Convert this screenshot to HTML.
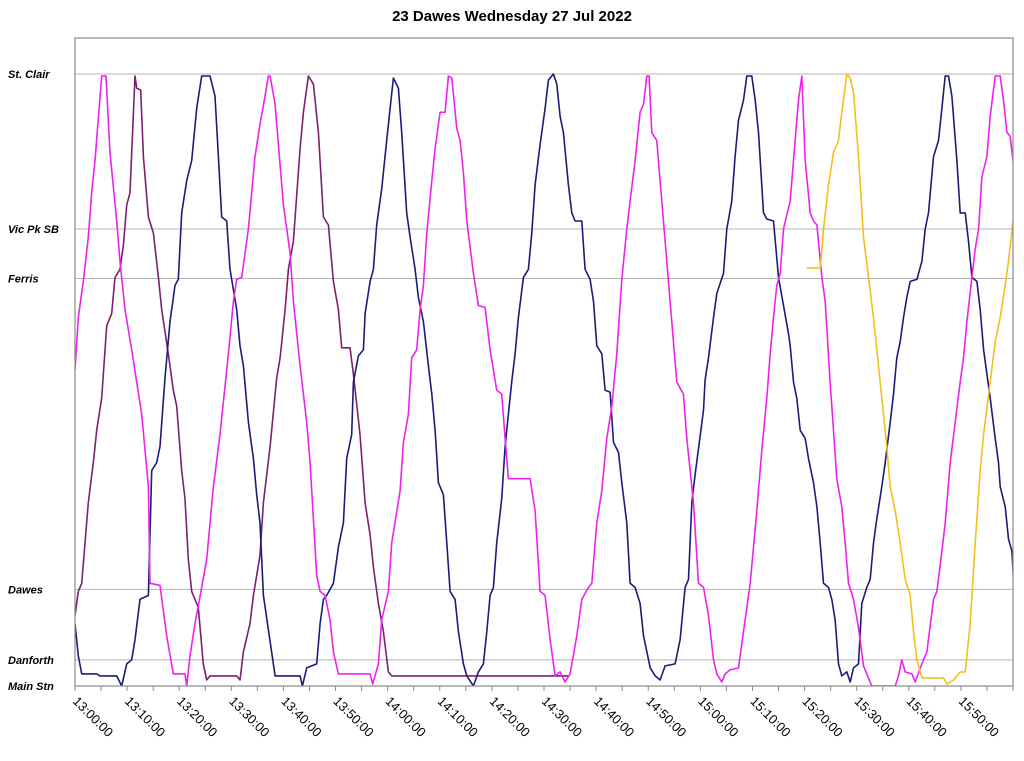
<!DOCTYPE html>
<html><head><meta charset="utf-8"><style>
html,body{margin:0;padding:0;background:#fff;}
svg{display:block;font-family:"Liberation Sans",sans-serif;}
</style></head><body>
<svg id="chart" width="1024" height="761" viewBox="0 0 1024 761" xmlns="http://www.w3.org/2000/svg">
<text x="512" y="21" text-anchor="middle" font-size="15" font-weight="bold">23 Dawes Wednesday 27 Jul 2022</text>
<defs><clipPath id="pc"><rect x="75" y="38" width="938" height="648"/></clipPath></defs>
<g id="grid"></g>
<g id="ylabels"></g>
<g id="xaxis"></g>
<g id="series" clip-path="url(#pc)"></g>
<rect x="75" y="38" width="938" height="648" fill="none" stroke="#8a8a8a" stroke-width="1.2"/>
</svg>
<script>
// Stops (distance along route from Main Stn)
const stopNames = ["St. Clair","Vic Pk SB","Ferris","Dawes","Danforth","Main Stn"];
const stopDist = [1520,1135,1012,240,65,0];
// X ticks (minutes after 13:00)
const tickMinutes = [0,10,20,30,40,50,60,70,80,90,100,110,120,130,140,150,160,170];
const tickLabels = ["13:00:00","13:10:00","13:20:00","13:30:00","13:40:00","13:50:00","14:00:00","14:10:00","14:20:00","14:30:00","14:40:00","14:50:00","15:00:00","15:10:00","15:20:00","15:30:00","15:40:00","15:50:00"];
// Series: [minute, distance]
const magentaBus = [[0,785],[0.64,915],[1.6,1005],[2.56,1115],[3.2,1225],[3.84,1305],[5.12,1515],[5.95,1515],[6.72,1325],[8,1155],[8.64,1055],[9.6,935],[10.88,835],[11.84,755],[12.8,675],[14.08,495],[14.4,255],[16.32,250],[17.59,125],[18.87,30],[21.11,30],[21.43,0],[22.07,75],[23.03,155],[24.31,245],[25.27,315],[26.55,495],[27.83,625],[29.43,825],[30.39,955],[31.03,1010],[31.99,1015],[33.27,1135],[34.55,1315],[35.51,1395],[36.47,1465],[37.11,1515],[37.43,1515],[38.39,1445],[39.03,1345],[39.99,1195],[41.27,1075],[41.91,955],[43.19,795],[44.47,655],[45.11,555],[46.39,275],[47.03,235],[47.99,225],[48.94,165],[49.58,85],[50.54,30],[56.62,30],[57.13,5],[58.22,55],[58.86,165],[60.14,235],[60.78,355],[62.38,485],[63.02,605],[63.98,675],[64.62,815],[65.58,835],[66.22,935],[66.86,995],[67.5,1125],[68.46,1255],[69.1,1335],[70.06,1425],[71.02,1425],[71.66,1515],[72.3,1510],[73.26,1385],[73.9,1355],[74.54,1275],[75.18,1155],[76.46,1025],[77.42,945],[78.7,940],[79.66,835],[80.93,735],[81.89,725],[82.53,615],[83.17,515],[87.33,515],[88.29,435],[89.25,235],[90.21,225],[91.17,115],[92.13,25],[93.09,35],[94.05,10],[95.01,30],[96.29,125],[97.25,215],[98.53,245],[99.17,255],[100.13,405],[101.09,485],[102.05,615],[103.01,695],[103.97,825],[104.93,1010],[105.89,1135],[106.53,1205],[107.49,1305],[108.45,1425],[109.09,1445],[109.73,1515],[110.17,1515],[110.69,1375],[111.65,1355],[112.28,1255],[113.56,1055],[114.2,955],[115.48,755],[116.76,725],[117.4,615],[118.68,455],[119.64,255],[120.6,245],[121.56,175],[122.52,65],[123.16,30],[124.12,10],[124.76,30],[125.72,40],[127.32,45],[128.28,135],[129.56,255],[130.84,435],[131.8,585],[132.76,715],[133.4,825],[134.04,915],[134.68,995],[135.32,1025],[135.96,1135],[137.24,1205],[138.52,1405],[138.84,1455],[139.48,1515],[140.12,1305],[141.08,1175],[141.72,1155],[142.36,1145],[143.32,1015],[143.96,955],[144.91,755],[145.55,635],[146.19,515],[147.15,445],[147.79,355],[148.43,255],[149.39,215],[150.35,145],[151.31,50],[152.91,0],[157.39,0],[158.03,25],[158.67,65],[159.31,35],[160.59,30],[161.23,10],[162.51,55],[163.47,85],[164.75,215],[165.39,235],[166.35,335],[166.99,405],[167.95,555],[168.91,655],[169.87,755],[170.51,815],[171.15,905],[172.11,1015],[172.75,1085],[173.39,1135],[174.03,1265],[174.99,1315],[175.62,1415],[176.58,1515],[177.54,1515],[178.18,1455],[178.82,1375],[179.46,1365],[180.1,1295]];
const purpleBus = [[0,175],[0.64,235],[1.28,255],[1.92,355],[2.56,455],[3.52,555],[4.16,635],[5.12,715],[6.08,895],[7.04,925],[7.68,1015],[8.64,1035],[9.28,1095],[9.92,1195],[10.56,1225],[11.52,1515],[11.84,1485],[12.6,1480],[13.12,1315],[14.08,1165],[15.04,1125],[16,1015],[16.63,935],[17.91,825],[18.87,735],[19.51,695],[20.47,535],[21.11,465],[21.75,315],[22.39,235],[23.67,195],[24.63,55],[25.27,15],[25.91,25],[31.03,25],[31.67,15],[32.31,85],[33.59,155],[34.23,225],[35.51,325],[36.15,455],[37.43,595],[38.71,765],[39.35,815],[40.31,935],[40.95,1035],[41.91,1105],[43.19,1335],[43.83,1425],[44.79,1515],[45.75,1495],[46.71,1375],[47.66,1165],[48.62,1145],[49.58,1005],[50.54,935],[51.18,840],[52.78,840],[53.42,775],[54.7,625],[55.66,455],[56.62,375],[57.26,295],[58.22,205],[59.18,135],[60.14,35],[60.78,25],[94.69,25]];
const navyBus = [[0,155],[0.64,75],[1.28,30],[4.16,30],[4.8,25],[8,25],[8.96,0],[9.92,55],[10.88,65],[11.52,115],[12.48,215],[14.08,225],[14.72,535],[15.67,555],[16.32,595],[17.27,765],[18.23,905],[19.19,995],[19.83,1010],[20.47,1175],[21.43,1255],[22.39,1305],[23.35,1435],[24.31,1515],[25.91,1515],[26.87,1465],[27.51,1315],[28.15,1165],[29.11,1155],[29.75,1035],[31.03,935],[31.67,845],[32.31,795],[33.27,655],[34.23,565],[34.87,475],[35.51,405],[36.15,225],[38.39,25],[43.19,25],[43.63,0],[44.47,45],[46.39,55],[47.03,155],[47.66,215],[48.3,225],[49.58,255],[50.54,345],[51.5,405],[52.14,565],[53.1,625],[53.42,755],[54.38,820],[55.34,835],[55.66,925],[56.62,1005],[57.26,1035],[57.9,1145],[58.86,1235],[59.82,1355],[60.46,1435],[61.1,1510],[62.06,1485],[62.7,1375],[63.66,1175],[64.3,1115],[65.26,1035],[65.9,965],[66.86,905],[67.82,795],[68.46,725],[69.1,635],[69.74,505],[70.7,475],[71.34,355],[71.98,235],[72.94,215],[73.58,135],[74.54,55],[75.18,25],[76.46,0],[77.42,35],[78.38,55],[79.02,135],[79.66,225],[80.29,245],[80.93,355],[81.89,465],[82.53,595],[83.17,675],[83.81,755],[84.45,825],[85.09,915],[86.05,1015],[87.01,1035],[87.65,1125],[88.29,1245],[89.25,1345],[90.21,1435],[90.85,1505],[91.81,1520],[92.45,1495],[93.09,1415],[93.73,1375],[94.69,1245],[95.33,1175],[95.97,1155],[97.25,1155],[97.89,1035],[98.85,1010],[99.49,955],[100.13,845],[101.09,825],[101.73,735],[102.69,730],[103.33,605],[104.29,580],[104.93,505],[105.89,405],[106.53,255],[107.49,245],[108.45,205],[109.09,125],[110.37,45],[111.33,25],[112.28,15],[113.24,50],[115.16,55],[116.12,115],[117.08,245],[117.72,265],[118.36,455],[119,525],[119.96,620],[120.6,685],[120.92,760],[121.56,815],[122.52,915],[123.16,975],[124.44,1025],[125.08,1135],[126.04,1205],[126.68,1315],[127.32,1405],[128.28,1455],[128.92,1515],[129.88,1515],[130.52,1455],[131.16,1375],[132.12,1175],[132.76,1160],[134.04,1155],[135,1015],[135.96,945],[136.92,875],[137.24,845],[137.88,755],[138.52,715],[139.16,635],[140.12,615],[140.76,565],[141.72,505],[142.36,445],[143,355],[143.64,255],[144.6,245],[145.23,215],[145.87,165],[146.51,55],[147.15,25],[148.11,35],[148.75,10],[149.39,45],[150.35,55],[150.99,205],[151.95,245],[152.59,265],[153.23,355],[153.87,415],[154.83,495],[155.47,555],[156.43,655],[157.07,725],[157.71,815],[158.35,855],[158.99,915],[159.63,965],[160.27,1005],[161.55,1010],[162.51,1055],[163.15,1135],[163.79,1175],[164.75,1315],[165.71,1355],[166.35,1435],[166.99,1515],[167.63,1515],[168.27,1465],[169.23,1305],[169.87,1175],[170.83,1175],[171.47,1105],[172.11,1015],[173.07,1005],[173.71,935],[174.35,835],[174.99,775],[175.62,715],[176.58,615],[177.22,555],[177.54,495],[178.5,445],[179.14,365],[179.78,335],[180.1,265]];
const goldBus = [[140.44,1038],[143,1038],[143.64,1135],[144.6,1245],[145.55,1325],[146.51,1355],[147.15,1425],[148.11,1520],[148.75,1510],[149.39,1475],[150.35,1315],[151.31,1115],[152.27,1015],[153.23,915],[154.19,795],[155.15,675],[155.79,595],[156.43,495],[157.39,435],[158.35,355],[159.31,265],[160.27,225],[160.91,135],[161.55,65],[162.51,20],[166.67,20],[167.31,5],[168.59,15],[169.87,35],[170.83,35],[171.79,155],[172.75,355],[173.71,535],[174.35,625],[175.62,755],[176.58,855],[177.54,915],[178.5,995],[179.14,1055],[180.1,1165]];

const NS="http://www.w3.org/2000/svg";
const X0=75,X1=1013,Y0=38,Y1=686,XMAX=180,DMAX=1609.5;
function xs(m){return X0+m*(X1-X0)/XMAX;}
function ys(d){return Y1-d*(Y1-Y0)/DMAX;}
function mk(tag,attrs,parent){const e=document.createElementNS(NS,tag);for(const k in attrs)e.setAttribute(k,attrs[k]);parent.appendChild(e);return e;}

const grid=document.getElementById('grid'), yl=document.getElementById('ylabels');
stopNames.forEach((n,i)=>{
  const y=ys(stopDist[i]);
  if(stopDist[i]>0){
    const l=mk('line',{x1:X0,x2:X1,y1:y,y2:y,stroke:'#b4b4b4','stroke-width':1},grid);
    
    
  }
  const t=mk('text',{x:8,y:y+4,'font-size':11,'font-weight':'bold','font-style':'italic'},yl);
  t.textContent=n;
  
  
});

const xa=document.getElementById('xaxis');
for(let m=0;m<=XMAX;m+=5){
  const x=xs(m);
  const tk=mk('line',{x1:x,x2:x,y1:Y1,y2:Y1+5,stroke:'#8a8a8a','stroke-width':1},xa);
  
  
}
tickMinutes.forEach((m,i)=>{
  const x=xs(m);
  const t=mk('text',{x:0,y:0,'font-size':13,transform:'translate('+(x-3)+','+(Y1+16)+') rotate(45)'},xa);
  t.textContent=tickLabels[i];
  
  
});

const sg=document.getElementById('series');
function draw(data,color,name){
  const p=mk('polyline',{points:data.map(d=>xs(d[0]).toFixed(1)+','+ys(d[1]).toFixed(1)).join(' '),fill:'none',stroke:color,'stroke-width':1.6,'stroke-linejoin':'round'},sg);
  
  
}
draw(purpleBus,'#7a2070','series-purple-bus');
draw(navyBus,'#1c1c78','series-navy-bus');
draw(magentaBus,'#ee22ee','series-magenta-bus');
draw(goldBus,'#f4bf1c','series-gold-bus');
</script>
</body></html>
